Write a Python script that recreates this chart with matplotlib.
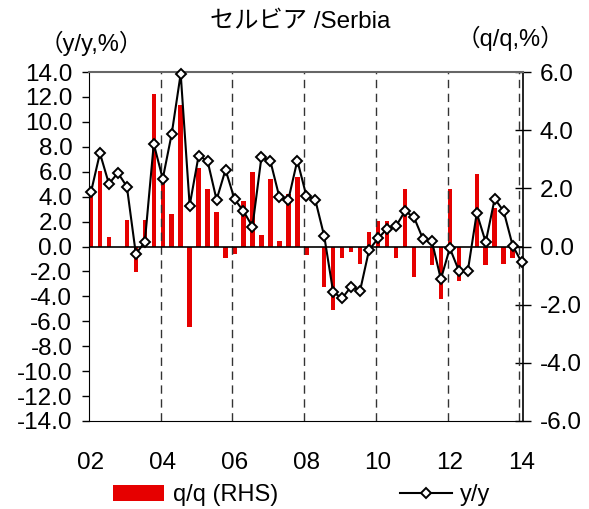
import matplotlib
matplotlib.use("Agg")
import matplotlib.pyplot as plt
import numpy as np

plt.rcParams['font.family'] = ['Liberation Sans', 'Noto Sans CJK JP']

# quarterly, 2002Q1 .. 2014Q1
yy = [4.36, 7.49, 5.03, 5.91, 4.81, -0.59, 0.35, 8.24, 5.43, 9.04,
      13.86, 3.29, 7.30, 6.85, 3.75, 6.16, 3.80, 2.84, 1.60, 7.17,
      6.85, 3.96, 3.75, 6.90, 4.09, 3.75, 0.83, -3.67, -4.15, -3.21,
      -3.53, -0.27, 0.65, 1.42, 1.63, 2.84, 2.35, 0.62, 0.43, -2.62,
      -0.13, -1.93, -1.98, 2.68, 0.35, 3.83, 2.84, 0.08, -1.26]
qq = [2.05, 2.58, 0.32, 0.0, 0.92, -0.88, 0.92, 5.24, 2.21, 1.12,
      4.88, -2.77, 2.70, 1.98, 1.18, -0.39, -0.26, 1.58, 2.57, 0.38,
      2.31, 0.18, 1.81, 2.38, -0.28, 0.0, -1.40, -2.18, -0.40, -0.19,
      -0.60, 0.49, 0.89, 0.89, -0.39, 1.98, -1.05, 0.0, -0.64, -1.79,
      1.99, -1.18, 0.0, 2.51, -0.64, 1.33, -0.59, -0.38, 0.0]
year_labels = ["02", "04", "06", "08", "10", "12", "14"]
left_ticks = np.arange(-14, 15, 2)
right_ticks = np.arange(-6, 7, 2)

x = np.arange(len(yy))

fig = plt.figure(figsize=(5.89, 5.09), dpi=100)
ax = fig.add_axes([0.1511, 0.1729, 0.7360, 0.6856])
ax2 = ax.twinx()
ax.set_zorder(ax2.get_zorder() + 1)
ax.patch.set_visible(False)

bars = ax2.bar(x, qq, width=0.5, color="#e60000", label="q/q (RHS)")
ax2.set_ylim(-6, 6)
ax2.set_yticks(right_ticks)
ax2.set_yticklabels([f"{v:.1f}" for v in right_ticks])
ax2.tick_params(axis="y", direction="inout", length=11, width=1, pad=7, labelsize=17.5)

ax.axhline(0, color="black", lw=1.2, zorder=2)
for k in range(1, 7):
    ax.axvline(8 * k - 0.25, color="#333333", lw=1, ls=(0, (6, 4)), zorder=1)

line, = ax.plot(x, yy, color="black", lw=1.5, marker="D", ms=5.5,
                mfc="white", mec="black", mew=1.4, zorder=3, label="y/y", clip_on=False)

ax.set_xlim(-0.22, 48.1)
ax.set_ylim(-14, 14)
ax.set_yticks(left_ticks)
ax.set_yticklabels([f"{v:.1f}" for v in left_ticks])
ax.tick_params(axis="y", direction="out", length=5, width=1, pad=7, labelsize=17.5)
ax.set_xticks(np.arange(0, 49, 8))
ax.set_xticklabels(year_labels)
ax.tick_params(axis="x", length=0, pad=22, labelsize=17.5)

for a in (ax, ax2):
    for s in a.spines.values():
        s.set_visible(False)
ax.spines["left"].set_visible(True)
ax.spines["bottom"].set_visible(True)
ax.spines["top"].set_visible(True)
ax.spines["top"].set_color("#666666")
ax.spines["top"].set_linewidth(1.5)
ax2.spines["right"].set_visible(True)
ax2.spines["right"].set_linewidth(1.2)

fig.text(0.51, 0.955, "セルビア /Serbia", ha="center", va="center", fontsize=17.5)
fig.text(0.155, 0.915, "（y/y,%）", ha="center", va="center", fontsize=17)
fig.text(0.866, 0.925, "（q/q,%）", ha="center", va="center", fontsize=17)

fig.legend(handles=[bars, line], loc="center left", bbox_to_anchor=(0.175, 0.027),
           ncol=2, frameon=False, fontsize=17, handlelength=2.2, handletextpad=0.35,
           columnspacing=5.15, numpoints=1, borderaxespad=0)

fig.savefig("out.png", dpi=100)
